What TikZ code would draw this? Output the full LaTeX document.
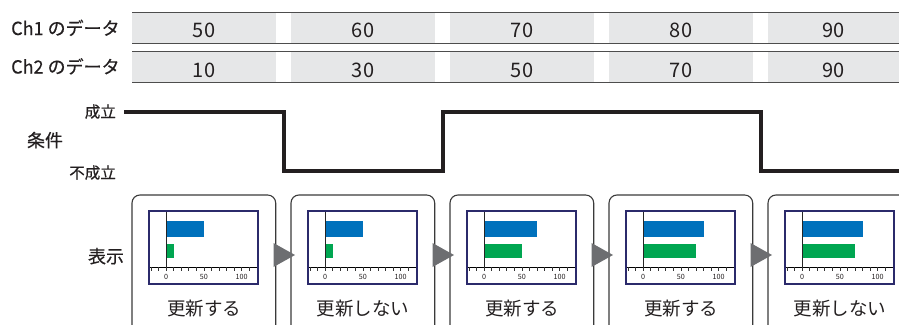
\documentclass[tikz,border=0pt]{standalone}
\usepackage{fontspec}
\setmainfont{Noto Sans CJK JP}
\newfontfamily\medfont{Noto Sans CJK JP}[FakeBold=0.5]
\definecolor{txt}{HTML}{231F20}
\definecolor{cellgray}{HTML}{E6E7E8}
\definecolor{rule}{HTML}{4D4D4D}
\definecolor{barblue}{HTML}{0071BC}
\definecolor{bargreen}{HTML}{00A651}
\definecolor{navy}{HTML}{2B2A6B}
\definecolor{arrowgray}{HTML}{6D6E71}
\definecolor{boxline}{HTML}{3A3A3A}
\begin{document}
\begin{tikzpicture}[x=1pt,y=-1pt,
  lbl/.style={inner sep=0pt,text=txt,font=\medfont\fontsize{18}{20}\selectfont},
  small/.style={inner sep=0pt,text=txt,font=\medfont\fontsize{15.5}{17}\selectfont},
  datatext/.style={inner sep=0pt,text=txt,font=\fontsize{20}{22}\selectfont,anchor=base},
  ticklbl/.style={inner sep=0pt,text=txt,font=\fontsize{7.2}{8}\selectfont,anchor=base},
  tablerule/.style={draw=rule,line width=1.4pt},
  panel/.style={draw=boxline,line width=1.1pt,rounded corners=8pt},
  frame/.style={draw=navy,line width=2pt},
  stepline/.style={draw=txt,line width=3.6pt,line join=miter},
  tri/.style={fill=arrowgray}]
\useasboundingbox (0,0) rectangle (899,324);

% ---- table ----
\foreach \i/\a/\b in {0/50/10,1/60/30,2/70/50,3/80/70,4/90/90}{
  \pgfmathsetmacro\xl{132+159*\i}
  \pgfmathsetmacro\xr{min(\xl+144,899)}
  \pgfmathsetmacro\xc{(\xl+\xr)/2}
  \fill[cellgray] (\xl,13) rectangle (\xr,43);
  \fill[cellgray] (\xl,52) rectangle (\xr,82);
  \node[datatext] (ch1v\i) at (\xc,37.3) {\a};
  \node[datatext] (ch2v\i) at (\xc,77.3) {\b};
}
\draw[tablerule] (132,12.5) -- (899,12.5);
\draw[tablerule] (132,43.5) -- (899,43.5);
\draw[tablerule] (132,51.7) -- (899,51.7);
\draw[tablerule] (132,82.2) -- (899,82.2);
\node[lbl,anchor=base west] (ch1) at (11,35) {Ch1 のデータ};
\node[lbl,anchor=base west] (ch2) at (11,73.5) {Ch2 のデータ};

% ---- condition ----
\node[small,anchor=base east] (on) at (116,117.5) {成立};
\node[small,anchor=base east] (off) at (116,178.5) {不成立};
\node[lbl,anchor=base] (cond) at (45,147) {条件};
\coordinate (s0) at (124,112);
\coordinate (s1) at (284,112);
\coordinate (s2) at (284,171);
\coordinate (s3) at (443,171);
\coordinate (s4) at (443,112);
\coordinate (s5) at (761,112);
\coordinate (s6) at (761,171);
\coordinate (s7) at (899,171);
\draw[stepline] (s0) -- (s1) -- (s2) -- (s3) -- (s4) -- (s5) -- (s6) -- (s7);

% ---- display panels ----
\node[lbl,anchor=base] (disp) at (106,263) {表示};
\foreach \i/\bv/\gv/\t in {0/50/10/更新する,1/50/10/更新しない,2/70/50/更新する,3/80/70/更新する,4/80/70/更新しない}{
  \pgfmathsetmacro\xl{132+159*\i}
  \pgfmathsetmacro\xc{\xl+72}
  \pgfmathsetmacro\xz{\xl+34}
  \draw[panel] (\xl,340) -- (\xl,195) -- (\xl+143.7,195) -- (\xl+143.7,340);
  % chart
  \fill[white] (\xl+17,211) rectangle (\xl+126,284);
  \fill[barblue] (\xz,220.7) rectangle ({\xz+0.757*\bv},236.7);
  \fill[bargreen] (\xz,244) rectangle ({\xz+0.757*\gv},258.3);
  \draw[black!85,line width=0.9pt] (\xz,211) -- (\xz,267);
  \draw[black,line width=0.9pt] (\xl+17,267) -- (\xl+126,267);
  \foreach \v in {-20,-10,...,120}{
    \draw[black!80,line width=0.6pt] ({\xz+0.757*\v},267) -- ({\xz+0.757*\v},271);
  }
  \node[ticklbl] (t0\i) at (\xz,279.7) {0};
  \node[ticklbl] (t50\i) at ({\xz+0.757*50},279.7) {50};
  \node[ticklbl] (t100\i) at ({\xz+0.757*100},279.7) {100};
  \draw[frame] (\xl+17,211) rectangle (\xl+126,284);
  \node[inner sep=0pt,text=txt,anchor=base,font=\fontsize{18.5}{20}\selectfont] (lab\i) at (\xc,315) {\t};
}
% arrows between panels
\foreach \i in {0,1,2,3}{
  \pgfmathsetmacro\xa{132+159*\i+141.5}
  \fill[tri] (\xa,243) -- (\xa+21.5,255) -- (\xa,267) -- cycle;
}
\end{tikzpicture}
\end{document}
